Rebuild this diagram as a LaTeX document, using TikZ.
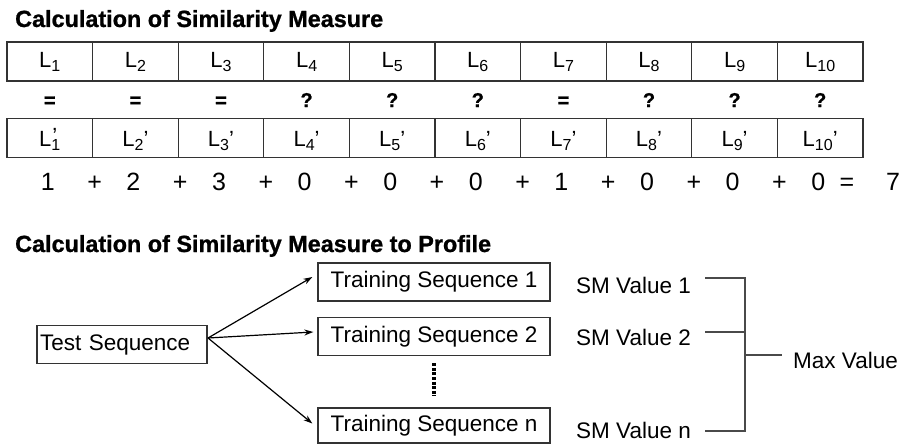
\documentclass[tikz,border=0pt]{standalone}
\usepackage{fontspec}
\setmainfont{Liberation Sans}
\newfontfamily\heavyfont[FakeBold=1]{Liberation Sans Bold}
\usetikzlibrary{arrows.meta}
\definecolor{boxgray}{HTML}{333333}
\definecolor{brgray}{HTML}{4A4A4A}
\newcommand\SubT[1]{\raisebox{-4pt}{\fontsize{16}{16}\selectfont #1}}
\newcommand\Lsub[1]{L\SubT{#1}}
\newcommand\Lpr[1]{L\SubT{#1}’}
\newcommand\Lprone{L\rlap{\hspace{1pt}\raisebox{3pt}{’}}\SubT{1}}
\begin{document}
\begin{tikzpicture}[x=1pt,y=-1pt,
  cell/.style={draw=boxgray,line width=1.3pt,minimum width=85.6pt,minimum height=39pt,inner sep=0pt,
    font=\fontsize{22}{22}\selectfont,text height=15pt,text depth=3pt},
  cellb/.style={cell,text height=17pt,text depth=1pt},
  sym/.style={font=\heavyfont\fontsize{20}{20}\selectfont,anchor=base,inner sep=0pt},
  num/.style={font=\fontsize{25}{25}\selectfont,anchor=base,inner sep=0pt},
  title/.style={font=\heavyfont\fontsize{23.4}{23.4}\selectfont,anchor=base west,inner sep=0pt},
  seqbox/.style={draw=boxgray,line width=1.3pt,minimum height=38pt,inner sep=0pt,font=\fontsize{22.5}{22.5}\selectfont},
  plain/.style={font=\fontsize{22.5}{22.5}\selectfont,anchor=base west,inner sep=0pt},
  arr/.style={line width=1.2pt,-{Stealth[length=9pt,width=6pt]}},
  brk/.style={draw=brgray,line width=1.3pt}
]
\fill[white] (0,0) rectangle (903,447);
\useasboundingbox (0,0) rectangle (903,447);

\node[title] (t1) at (15,27) {Calculation of Similarity Measure};

\foreach \i in {1,...,10} {
  \node[cell] (a\i) at ({7+85.6*(\i-0.5)},61.5) {\Lsub{\i}};
  \node[cellb] (b\i) at ({7+85.6*(\i-0.5)},138) {\ifnum\i=1 \Lprone\else\Lpr{\i}\fi};
}
\foreach \i/\s in {1/=,2/=,3/=,4/?,5/?,6/?,7/=,8/?,9/?,10/?}
  \node[sym] (s\i) at ({7+85.6*(\i-0.5)},107) {\s};

\foreach \i/\n in {1/1,2/2,3/3,4/0,5/0,6/0,7/1,8/0,9/0,10/0}
  \node[num] (n\i) at ({7+85.6*(\i-0.5)-2},190) {\n};
\foreach \i in {1,...,9}
  \node[num] (p\i) at ({7+85.6*\i+2},190) {+};
\node[num] (eq) at (847,190) {=};
\node[num] (res) at (893,190) {7};

\node[title] (t2) at (15,252) {Calculation of Similarity Measure to Profile};

\node[seqbox,minimum width=170pt,text width=164pt,align=left] (ts) at (122,344.5) {Test Sequence};
\node[seqbox,minimum width=232pt] (tr1) at (434,282) {Training Sequence 1};
\node[seqbox,minimum width=232pt] (tr2) at (434,336.5) {Training Sequence 2};
\node[seqbox,minimum width=232pt,minimum height=35pt] (trn) at (434,425.5) {Training Sequence n};

\coordinate (src) at (208,338);
\draw[arr] (src) -- ([xshift=-5pt,yshift=5pt]tr1.west);
\draw[arr] (src) -- ([xshift=-4pt,yshift=4.5pt]tr2.west);
\draw[arr] (src) -- ([xshift=-5pt,yshift=2pt]trn.west);

\draw[line width=4pt,dash pattern=on 3pt off 1.6pt] ([yshift=-7pt]tr2.south) -- ([yshift=11pt]trn.north);

\node[plain] (sm1) at (576,293) {SM Value 1};
\node[plain] (sm2) at (576,345) {SM Value 2};
\node[plain] (smn) at (576,438) {SM Value n};
\node[plain] (mx) at (793,368) {Max Value};

\coordinate (bt) at (745,278);
\coordinate (bm) at (745,332);
\coordinate (bb) at (745,431);
\coordinate (bo) at (745,355);
\draw[brk] (705,278) -- (bt) -- (bb) -- (705,431);
\draw[brk] (705,332) -- (bm);
\draw[brk] (bo) -- ([xshift=-11pt]mx.west |- bo);
\end{tikzpicture}
\end{document}
